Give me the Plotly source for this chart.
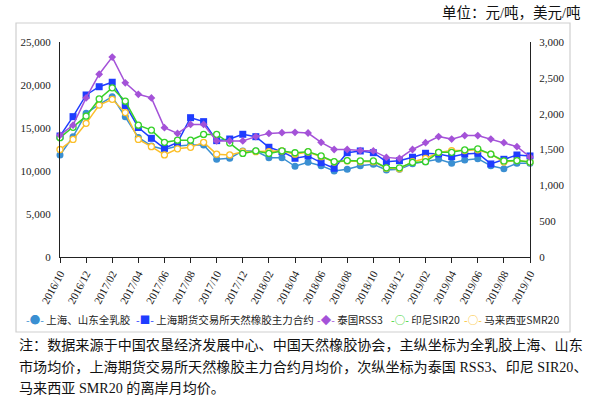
import plotly.graph_objects as go

months = [
    "2016/10", "2016/11", "2016/12", "2017/01", "2017/02", "2017/03", "2017/04", "2017/05",
    "2017/06", "2017/07", "2017/08", "2017/09", "2017/10", "2017/11", "2017/12", "2018/01",
    "2018/02", "2018/03", "2018/04", "2018/05", "2018/06", "2018/07", "2018/08", "2018/09",
    "2018/10", "2018/11", "2018/12", "2019/01", "2019/02", "2019/03", "2019/04", "2019/05",
    "2019/06", "2019/07", "2019/08", "2019/09", "2019/10",
]
tick_labels = months[::2]

# main axis (yuan/ton)
whole_latex = [11860, 13990, 16710, 17760, 18640, 16320, 13900, 12910, 12500, 12910, 13030, 13030,
               11360, 11480, 12330, 12330, 11550, 11550, 10550, 11010, 10620, 10000, 10200, 10620,
               10780, 10120, 10200, 10840, 11080, 11360, 10900, 11280, 11430, 10620, 10270, 10900, 10900]
shfe_main = [14070, 16320, 18840, 19800, 20320, 17620, 15060, 13800, 12640, 13320, 16200, 15740,
             13530, 13720, 14270, 13990, 12760, 12250, 11480, 11750, 10970, 10320, 12130, 12330,
             12130, 11080, 11200, 11600, 12060, 11980, 11670, 11980, 12060, 10820, 11360, 11860, 11750]
# secondary axis (USD/ton)
thai_rss3 = [1700, 1840, 2220, 2550, 2790, 2430, 2270, 2220, 1805, 1725, 1850, 1850,
             1620, 1620, 1620, 1680, 1725, 1735, 1740, 1730, 1600, 1500, 1500, 1485,
             1480, 1390, 1375, 1500, 1595, 1680, 1645, 1695, 1695, 1645, 1595, 1540, 1395]
indo_sir20 = [1665, 1810, 1965, 2205, 2360, 2175, 1840, 1770, 1600, 1630, 1630, 1710,
              1710, 1590, 1445, 1480, 1445, 1480, 1455, 1470, 1410, 1330, 1345, 1340,
              1340, 1245, 1245, 1320, 1330, 1460, 1460, 1495, 1510, 1435, 1340, 1345, 1325]
malay_smr20 = [1500, 1640, 1865, 2120, 2200, 2015, 1640, 1540, 1425, 1510, 1530, 1600,
               1435, 1425, 1470, 1470, 1470, 1480, 1435, 1465, 1400, 1325, 1340, 1330,
               1330, 1240, 1230, 1330, 1375, 1460, 1485, 1485, 1495, 1435, 1325, 1345, 1325]

names = ["上海、山东全乳胶", "上海期货交易所天然橡胶主力合约", "泰国RSS3", "印尼SIR20", "马来西亚SMR20"]
colors = ["#3a8fd2", "#1f3dff", "#a452d8", "#36d12a", "#fbbf2a"]
glyphs = ["●", "■", "◆", "○", "○"]

fig = go.Figure()

def add(y, name, color, symbol, size, axis, open_marker=False):
    marker = dict(symbol=symbol, size=size, color="white" if open_marker else color,
                  line=dict(color=color, width=1.3 if open_marker else 0))
    fig.add_trace(go.Scatter(x=months, y=y, name=name, mode="lines+markers",
                             line=dict(color=color, width=1.5), marker=marker,
                             yaxis=axis, cliponaxis=False, showlegend=False,
                             hoverinfo="skip"))

add(malay_smr20, names[4], colors[4], "circle", 6, "y2", True)
add(indo_sir20, names[3], colors[3], "circle", 6, "y2", True)
add(thai_rss3, names[2], colors[2], "diamond", 6, "y2")
add(whole_latex, names[0], colors[0], "circle", 7, "y")
add(shfe_main, names[1], colors[1], "square", 7, "y")

L, R, T, B = 60, 64, 42, 142
W, H = 594, 399
pw, ph = W - L - R, H - T - B

def px(x):
    return (x - L) / pw

def py(y):
    return (H - B - y) / ph

tick_font = dict(family="Liberation Serif, Times New Roman, serif", size=11, color="#222")
note_family = "Liberation Serif, Noto Sans CJK SC"

annotations = [
    dict(text="单位：元/吨，美元/吨", x=px(583), y=py(13), xref="paper", yref="paper",
         xanchor="right", yanchor="middle", showarrow=False,
         font=dict(family=note_family, size=14.5, color="#111")),
    dict(text="注：数据来源于中国农垦经济发展中心、中国天然橡胶协会，主纵坐标为全乳胶上海、山东",
         x=px(17), y=py(345), xref="paper", yref="paper", xanchor="left", yanchor="middle",
         showarrow=False, font=dict(family=note_family, size=14.1, color="#111")),
    dict(text="市场均价，上海期货交易所天然橡胶主力合约月均价，次纵坐标为泰国 RSS3、印尼 SIR20、",
         x=px(17), y=py(367), xref="paper", yref="paper", xanchor="left", yanchor="middle",
         showarrow=False, font=dict(family=note_family, size=14.1, color="#111")),
    dict(text="马来西亚 SMR20 的离岸月均价。",
         x=px(17), y=py(388), xref="paper", yref="paper", xanchor="left", yanchor="middle",
         showarrow=False, font=dict(family=note_family, size=14.1, color="#111")),
]

legend_x = [24, 134, 315, 389, 462]
for name, color, g, lx in zip(names, colors, glyphs, legend_x):
    annotations.append(dict(
        text=f'<span style="color:{color}">-{g}-</span> {name}',
        x=px(lx), y=py(319), xref="paper", yref="paper", xanchor="left", yanchor="middle",
        showarrow=False, font=dict(family="Noto Sans CJK SC", size=10.5, color="#222")))

fig.update_layout(
    width=W, height=H,
    margin=dict(l=L, r=R, t=T, b=B),
    paper_bgcolor="white", plot_bgcolor="white",
    hovermode=False,
    xaxis=dict(type="category", range=[0, len(months) - 1], tickmode="array",
               tickvals=tick_labels, ticktext=tick_labels, tickangle=-62,
               ticks="outside", ticklen=5, tickcolor="#222", showline=True,
               linecolor="#222", linewidth=1, showgrid=False, zeroline=False,
               tickfont=tick_font),
    yaxis=dict(range=[0, 25000], dtick=5000, tickformat=",", showline=True,
               linecolor="#222", linewidth=1, showgrid=False, zeroline=False,
               ticks="", tickfont=tick_font, ticklabelstandoff=6),
    yaxis2=dict(range=[0, 3000], dtick=500, tickformat=",", overlaying="y", side="right",
                showline=True, linecolor="#222", linewidth=1, showgrid=False,
                zeroline=False, ticks="", tickfont=tick_font, ticklabelstandoff=6),
    shapes=[dict(type="rect", xref="paper", yref="paper", x0=px(16), x1=px(570),
                 y0=py(332), y1=py(23), line=dict(color="#cfcfcf", width=1.2),
                 fillcolor="rgba(0,0,0,0)", layer="below")],
    annotations=annotations,
)

fig.write_html("out.html", config={"displayModeBar": False},
               post_script="document.body.style.margin='0';document.body.style.overflow='hidden';")
